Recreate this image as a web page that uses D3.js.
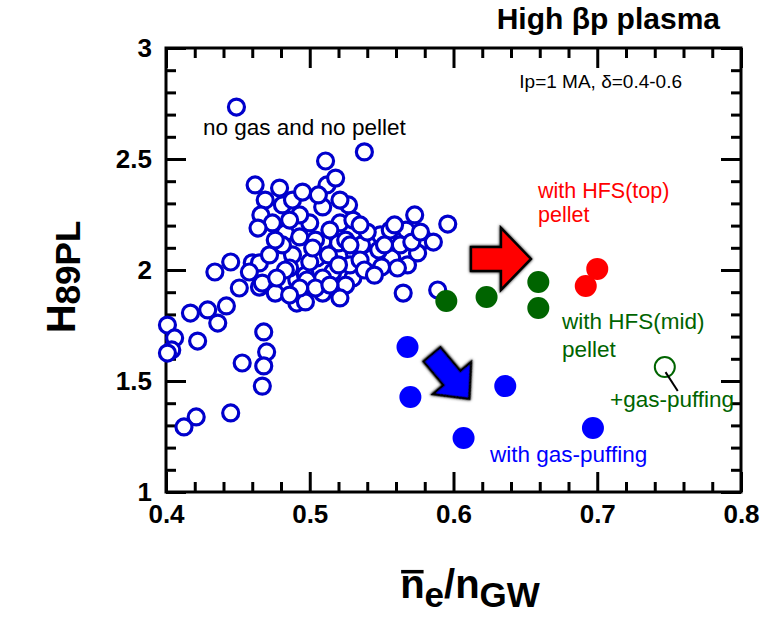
<!DOCTYPE html>
<html><head><meta charset="utf-8">
<script src="https://cdn.jsdelivr.net/npm/d3@7"></script>
<style>
body{margin:0;background:#fff;}
svg{display:block;font-family:"Liberation Sans",Arial,Helvetica,sans-serif;}
</style></head>
<body><svg id="c" width="783" height="621"></svg>
<script>
// ---- data ----
const noGasX = [0.449,0.401,0.406,0.404,0.401,0.417,0.429,0.442,0.436,0.422,0.451,0.465,0.476,0.468,0.470,0.453,0.468,0.467,0.445,0.421,0.4125,0.434,0.445,0.460,0.465,0.467,0.462,0.469,0.481,0.488,0.466,0.474,0.464,0.483,0.493,0.500,0.509,0.512,0.518,0.511,0.538,0.520,0.509,0.488,0.481,0.505,0.491,0.497,0.509,0.516,0.491,0.497,0.509,0.521,0.530,0.573,0.596,0.567,0.549,0.556,0.580,0.586,0.531,0.543,0.557,0.530,0.550,0.568,0.575,0.498,0.565,0.589,0.493,0.504,0.525,0.528,0.536,0.540,0.500,0.486,0.525,0.504,0.483,0.472,0.514,0.527,0.495,0.486,0.535,0.548,0.563,0.552,0.571,0.561,0.538,0.521,0.477,0.493,0.458,0.479,0.506,0.521,0.476,0.513,0.520,0.502,0.535,0.559,0.577,0.545,0.528,0.514,0.486];
const noGasY = [2.734,1.752,1.694,1.640,1.626,1.806,1.820,1.838,1.761,1.680,1.919,1.923,1.896,1.721,1.631,1.581,1.568,1.477,1.356,1.338,1.293,1.991,2.036,2.032,2.032,1.941,2.383,2.315,2.293,2.315,2.248,2.212,2.189,2.167,2.149,2.212,2.284,2.383,2.414,2.491,2.532,2.122,2.126,2.068,2.113,2.054,1.955,1.977,1.896,1.991,1.851,1.856,1.964,2.212,2.225,2.248,2.207,2.180,2.158,2.180,2.135,2.126,2.077,2.054,2.054,1.964,2.014,2.023,2.077,1.955,1.896,1.910,2.248,2.135,2.135,2.023,2.113,2.171,2.036,2.009,1.932,1.919,2.000,2.068,2.180,2.293,2.351,2.225,2.045,2.090,2.113,2.113,2.126,2.009,2.000,1.874,1.964,1.919,1.991,2.369,2.338,2.315,2.135,2.068,2.023,2.099,2.203,2.203,2.171,1.977,2.113,1.932,1.887];
const gasPuffX = [0.568,0.570,0.636,0.607,0.697];
const gasPuffY = [1.653,1.428,1.477,1.243,1.288];
const hfsMidX = [0.595,0.623,0.659,0.659];
const hfsMidY = [1.860,1.878,1.946,1.829];
const hfsTopX = [0.700,0.692];
const hfsTopY = [2.005,1.928];
const hfsMidGasX = [0.747];
const hfsMidGasY = [1.563];
const xTicks = [0.4,0.5,0.6,0.7,0.8];
const xTickLabels = ["0.4","0.5","0.6","0.7","0.8"];
const yTicks = [1,1.5,2,2.5,3];
const yTickLabels = ["1","1.5","2","2.5","3"];

// ---- scales ----
const svg = d3.select("#c");
const L=166,R=741,T=48,B=492;
const x = d3.scaleLinear().domain([0.4,0.8]).range([L,R]);
const y = d3.scaleLinear().domain([1,3]).range([B,T]);
const xMinor = d3.range(0.4,0.8001,0.02).filter(v=>!xTicks.some(t=>Math.abs(t-v)<1e-6));
const yMinor = d3.range(1,3.0001,0.1).filter(v=>!yTicks.some(t=>Math.abs(t-v)<1e-6));

function styleAxis(g){
  g.select(".domain").remove();
  g.selectAll(".tick line").attr("stroke","#000").attr("stroke-width",3);
  g.selectAll(".tick text").attr("font-size",26).attr("font-weight","bold").attr("fill","#000");
}
svg.append("g").attr("transform",`translate(0,${B})`)
  .call(d3.axisBottom(x).tickValues(xTicks).tickFormat((d,i)=>xTickLabels[i]).tickSize(-20).tickPadding(13))
  .call(styleAxis);
svg.append("g").attr("transform",`translate(0,${B})`)
  .call(d3.axisBottom(x).tickValues(xMinor).tickFormat("").tickSize(-10)).call(styleAxis);
svg.append("g").attr("transform",`translate(0,${T})`)
  .call(d3.axisTop(x).tickValues(xTicks).tickFormat("").tickSize(-20)).call(styleAxis);
svg.append("g").attr("transform",`translate(0,${T})`)
  .call(d3.axisTop(x).tickValues(xMinor).tickFormat("").tickSize(-10)).call(styleAxis);
svg.append("g").attr("transform",`translate(${L},0)`)
  .call(d3.axisLeft(y).tickValues(yTicks).tickFormat((d,i)=>yTickLabels[i]).tickSize(-20).tickPadding(14))
  .call(styleAxis);
svg.append("g").attr("transform",`translate(${L},0)`)
  .call(d3.axisLeft(y).tickValues(yMinor).tickFormat("").tickSize(-10)).call(styleAxis);
svg.append("g").attr("transform",`translate(${R},0)`)
  .call(d3.axisRight(y).tickValues(yTicks).tickFormat("").tickSize(-20)).call(styleAxis);
svg.append("g").attr("transform",`translate(${R},0)`)
  .call(d3.axisRight(y).tickValues(yMinor).tickFormat("").tickSize(-10)).call(styleAxis);
svg.append("rect").attr("x",L).attr("y",T).attr("width",R-L).attr("height",B-T)
  .attr("fill","none").attr("stroke","#000").attr("stroke-width",3);

// ---- points ----
const noGas = noGasX.map((v,i)=>[v,noGasY[i]]);
svg.append("g").selectAll("circle").data(noGas).join("circle")
  .attr("cx",d=>x(d[0])).attr("cy",d=>y(d[1])).attr("r",8)
  .attr("fill","#fff").attr("stroke","#0000cc").attr("stroke-width",3.2);

function filled(xs,ys,color){
  svg.append("g").selectAll("circle").data(xs.map((v,i)=>[v,ys[i]])).join("circle")
    .attr("cx",d=>x(d[0])).attr("cy",d=>y(d[1])).attr("r",11).attr("fill",color);
}
filled(gasPuffX,gasPuffY,"#0000ff");
filled(hfsMidX,hfsMidY,"#006400");
filled(hfsTopX,hfsTopY,"#ff0000");
svg.append("g").selectAll("circle").data(hfsMidGasX.map((v,i)=>[v,hfsMidGasY[i]])).join("circle")
  .attr("cx",d=>x(d[0])).attr("cy",d=>y(d[1])).attr("r",10)
  .attr("fill","none").attr("stroke","#006400").attr("stroke-width",2);

svg.append("line").attr("x1",x(0.7475)).attr("y1",y(1.54)).attr("x2",x(0.756)).attr("y2",y(1.455))
  .attr("stroke","#000").attr("stroke-width",2);

// ---- arrows ----
const defs = svg.append("defs");
const f = defs.append("filter").attr("id","blur").attr("x","-30%").attr("y","-30%").attr("width","160%").attr("height","160%");
f.append("feGaussianBlur").attr("in","SourceAlpha").attr("stdDeviation",1.5).attr("result","b");
const m = f.append("feMerge"); m.append("feMergeNode").attr("in","b"); m.append("feMergeNode").attr("in","SourceGraphic");

function arrow(cx,cy,len,headLen,headW,tailW,angle,color){
  const h=len/2;
  const pts=[[-h,-tailW/2],[h-headLen,-tailW/2],[h-headLen,-headW/2],[h,0],[h-headLen,headW/2],[h-headLen,tailW/2],[-h,tailW/2]];
  svg.append("path").attr("d",d3.line()(pts)+"Z")
    .attr("transform",`translate(${cx},${cy}) rotate(${angle})`)
    .attr("fill",color).attr("stroke","#000").attr("stroke-width",2.5).attr("stroke-linejoin","miter")
    .attr("filter","url(#blur)");
}
arrow(x(0.633),y(2.05),60,30,62,24,0,"#ff0000");
arrow(x(0.598),y(1.52),58,27,50,22,50,"#0000ff");

// ---- texts ----
function txt(t,xx,yy,size,color,weight,anchor){
  return svg.append("text").attr("x",xx).attr("y",yy).attr("font-size",size).attr("fill",color)
    .attr("font-weight",weight||"normal").attr("text-anchor",anchor||"start").text(t);
}
txt("High \u03b2p plasma",720,29,30,"#000","bold","end");
txt("Ip=1 MA, \u03b4=0.4-0.6",682,88,19,"#000","normal","end");
txt("no gas and no pellet",203,135,22.5,"#000");
txt("with HFS(top)",538,198,21.5,"#ff0000");
txt("pellet",538,222,21.5,"#ff0000");
txt("with HFS(mid)",562,329,22.5,"#006400");
txt("pellet",562,357,22.5,"#006400");
txt("+gas-puffing",610,407,22.5,"#006400");
txt("with gas-puffing",490,462,22.5,"#0000ff");

// axis titles
const yt = svg.append("text").attr("transform","translate(75,277) rotate(-90)")
  .attr("text-anchor","middle").attr("font-weight","bold").attr("font-size",40).attr("fill","#000");
yt.append("tspan").text("H");
yt.append("tspan").attr("font-size",35).attr("dy",5).text("89PL");

const xt = svg.append("text").attr("x",470).attr("y",598)
  .attr("text-anchor","middle").attr("font-weight","bold").attr("font-size",40).attr("fill","#000");
xt.append("tspan").text("n");
xt.append("tspan").attr("font-size",35).attr("dy",9).text("e");
xt.append("tspan").attr("font-size",40).attr("dy",-9).text("/n");
xt.append("tspan").attr("font-size",35).attr("dy",9).text("GW");
const ext = xt.node().getExtentOfChar(0);
svg.append("line").attr("x1",ext.x+1).attr("x2",ext.x+ext.width-1)
  .attr("y1",ext.y+ext.height*0.22).attr("y2",ext.y+ext.height*0.22)
  .attr("stroke","#000").attr("stroke-width",3.5);
</script></body></html>
